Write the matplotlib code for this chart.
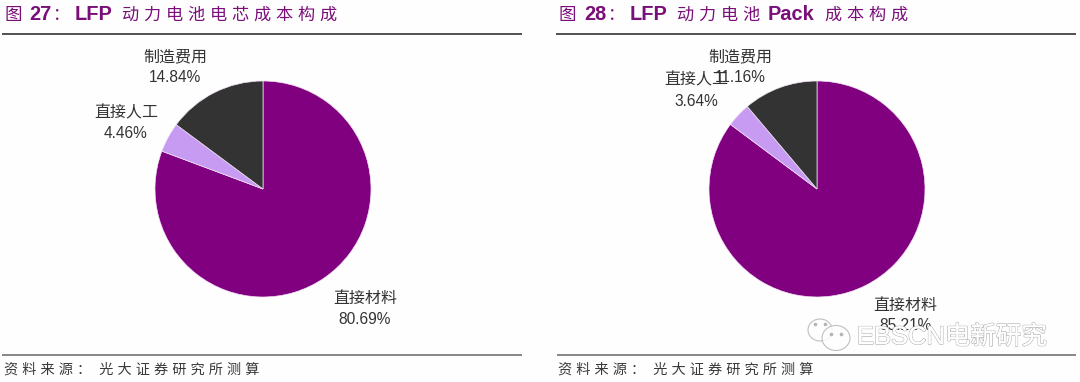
import matplotlib
matplotlib.use('Agg')
import matplotlib.pyplot as plt
import matplotlib.patheffects as pe
from matplotlib.patches import Ellipse

# data
categories = ['直接材料', '直接人工', '制造费用']
cell_values = [80.69, 4.46, 14.84]
pack_values = [85.21, 3.64, 11.16]
colors = ['#800080', '#C79BF2', '#333333']

source_text = '资 料 来 源 ：  光 大 证 券 研 究 所 测 算'
watermark_text = 'EBSCN电新研究'

FONTS = ['Liberation Sans', 'Noto Sans CJK SC', 'DejaVu Sans']
TITLE_COLOR = '#7A0F7A'
TEXT_COLOR = '#333333'
W, H = 1080, 382


def px(size):
    # font size given in pixels, figure is 100 dpi
    return size * 72 / 100


fig = plt.figure(figsize=(W / 100, H / 100), dpi=100, facecolor='#FEFEFE')


def draw_pie(cx, cy, r, values):
    # pie uses xlim/ylim of +-1.25, so the axes is 2.5 radii wide
    side = 2.5 * r
    ax = fig.add_axes([(cx - side / 2) / W, 1 - (cy + side / 2) / H, side / W, side / H])
    ax.pie(values, colors=colors, startangle=90, counterclock=False,
           wedgeprops={'edgecolor': '#F3E3F6', 'linewidth': 0.5})


draw_pie(263, 189, 108, cell_values)
draw_pie(817, 189, 108, pack_values)

# overlay in pixel coordinates for the text and rules
ov = fig.add_axes([0, 0, 1, 1], zorder=5)
ov.set_xlim(0, W)
ov.set_ylim(H, 0)
ov.axis('off')
ov.patch.set_alpha(0)


def title_runs(runs):
    for text, x, size, weight in runs:
        ov.text(x, 20, text, fontsize=px(size), fontweight=weight, color=TITLE_COLOR,
                family=FONTS, ha='left', va='baseline')


title_runs([('图', 5, 17.5, 'medium'), ('27', 29, 20, 'bold'), ('：', 52, 17, 'medium'),
            ('LFP', 75, 20, 'bold'),
            ('动 力 电 池 电 芯 成 本 构 成', 122, 17.2, 'medium')])
title_runs([('图', 559, 17.5, 'medium'), ('28', 584, 20, 'bold'), ('：', 607, 17, 'medium'),
            ('LFP', 630, 20, 'bold'), ('动 力 电 池', 677, 17.2, 'medium'),
            ('Pack', 768, 20, 'bold'), ('成 本 构 成', 825, 17.2, 'medium')])

for x0, x1, y in [(2, 522, 34), (556, 1076, 34), (2, 522, 355), (557, 1076, 355)]:
    color = '#222222' if y < 100 else '#666666'
    ov.plot([x0, x1], [y, y], color=color, lw=1.1, solid_capstyle='butt')

for x in (4, 558):
    ov.text(x, 370, source_text, fontsize=px(14.2), color='#3A3A3A', family=FONTS,
            ha='left', va='center')


def pie_label(name, value, x, y1, y2):
    ov.text(x, y1, name, fontsize=px(16), color=TEXT_COLOR, family=FONTS, ha='center', va='center')
    ov.text(x, y2, '%.2f%%' % value, fontsize=px(15.5), color=TEXT_COLOR, family=FONTS,
            ha='center', va='center')


pie_label(categories[2], cell_values[2], 175, 57, 77)
pie_label(categories[1], cell_values[1], 126, 113, 134)
pie_label(categories[0], cell_values[0], 365, 298, 319)

pie_label(categories[2], pack_values[2], 740, 57, 78)
pie_label(categories[1], pack_values[1], 696, 80, 101)
pie_label(categories[0], pack_values[0], 905, 305, 325)

# wechat style watermark
for cx, cy, w, h in [(820, 330, 24, 22), (836, 338, 28, 25)]:
    ov.add_patch(Ellipse((cx, cy), w, h, facecolor='white', edgecolor='#B5B5B5', lw=0.8, alpha=0.85))
for x, y in [(815, 324), (825, 324), (831, 334), (841, 334)]:
    ov.plot(x, y, 'o', ms=1.6, color='#B5B5B5')
wm = ov.text(857, 337, watermark_text, fontsize=px(25.5), color='white', family=FONTS,
             ha='left', va='center')
wm.set_path_effects([pe.withStroke(linewidth=0.9, foreground='#ABABAB'), pe.Normal()])

fig.savefig('out.png', dpi=100, facecolor=fig.get_facecolor())
